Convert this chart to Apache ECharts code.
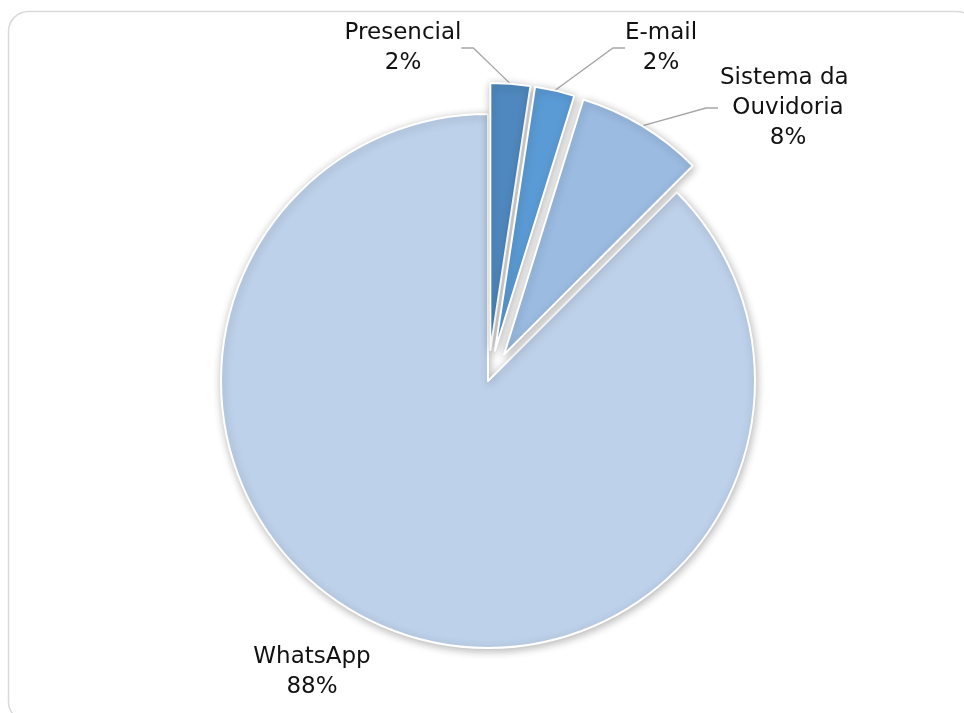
<!DOCTYPE html>
<html><head><meta charset="utf-8">
<script src="https://cdn.jsdelivr.net/npm/echarts@6/dist/echarts.min.js"></script>
<style>html,body{margin:0;padding:0;background:#fff}#c{width:964px;height:713px}</style>
</head><body><div id="c"></div>
<script>
// Data
const categories = ['Presencial', 'E-mail', 'Sistema da Ouvidoria', 'WhatsApp'];
const values = [2.4, 2.4, 7.7, 87.5];
const exploded = [true, true, true, false];

// Styling / layout
const colors = ['#4f88be', '#5b9bd5', '#9bbbe1', '#bdd1ea'];
const labelAnchors = [[403, 48], [661, 48], [788, 108], [312, 672]];
const showLeader = [true, true, true, false];
const pieCenter = [488, 381];
const pieRadius = 267;
const explodeDist = 31;

const chart = echarts.init(document.getElementById('c'), null, {renderer: 'canvas'});
const total = values.reduce((a, b) => a + b, 0);
let cum = 0;
const series = categories.map((name, k) => {
  const mid = (cum + values[k] / 2) / total * 2 * Math.PI;
  cum += values[k];
  const d = exploded[k] ? explodeDist : 0;
  const center = [pieCenter[0] + d * Math.sin(mid), pieCenter[1] - d * Math.cos(mid)];
  return {
    type: 'pie',
    name: name,
    center: center,
    radius: [0, pieRadius],
    startAngle: 90,
    clockwise: true,
    avoidLabelOverlap: false,
    emphasis: {disabled: true},
    animation: false,
    z: k === 3 ? 1 : 2,
    label: {
      fontFamily: 'DejaVu Sans',
      fontSize: 23,
      lineHeight: 30,
      color: '#111111',
      align: 'center',
      formatter: p => p.name + '\n' + Math.round(p.percent) + '%'
    },
    labelLine: {
      length: 10, length2: 12,
      lineStyle: {color: '#a6a6a6', width: 1.3}
    },
    labelLayout: function (p) {
      if (p.dataIndex !== k) return {};
      const a = labelAnchors[k];
      return {x: a[0], y: a[1], align: 'center', verticalAlign: 'middle'};
    },
    data: categories.map((n, i) => {
      const own = i === k;
      return {
        name: n,
        value: values[i],
        itemStyle: own ? {
          color: colors[i], borderColor: '#ffffff', borderWidth: 2,
          shadowBlur: 9, shadowColor: 'rgba(0,0,0,0.28)', shadowOffsetX: 1, shadowOffsetY: 2
        } : {color: 'rgba(0,0,0,0)', borderWidth: 0, shadowBlur: 0},
        label: own ? (n === 'Sistema da Ouvidoria' ? {show: true, position: 'outside', width: 140, overflow: 'break'} : {show: true, position: 'outside'}) : {show: false},
        labelLine: {show: own && showLeader[i]}
      };
    })
  };
});

chart.setOption({
  backgroundColor: '#ffffff',
  animation: false,
  graphic: [{
    type: 'rect', z: -10, silent: true,
    shape: {x: 8.5, y: 11.5, width: 968, height: 710, r: 20},
    style: {fill: 'none', stroke: '#d9d9d9', lineWidth: 1.5}
  }],
  series: series
});
</script></body></html>
